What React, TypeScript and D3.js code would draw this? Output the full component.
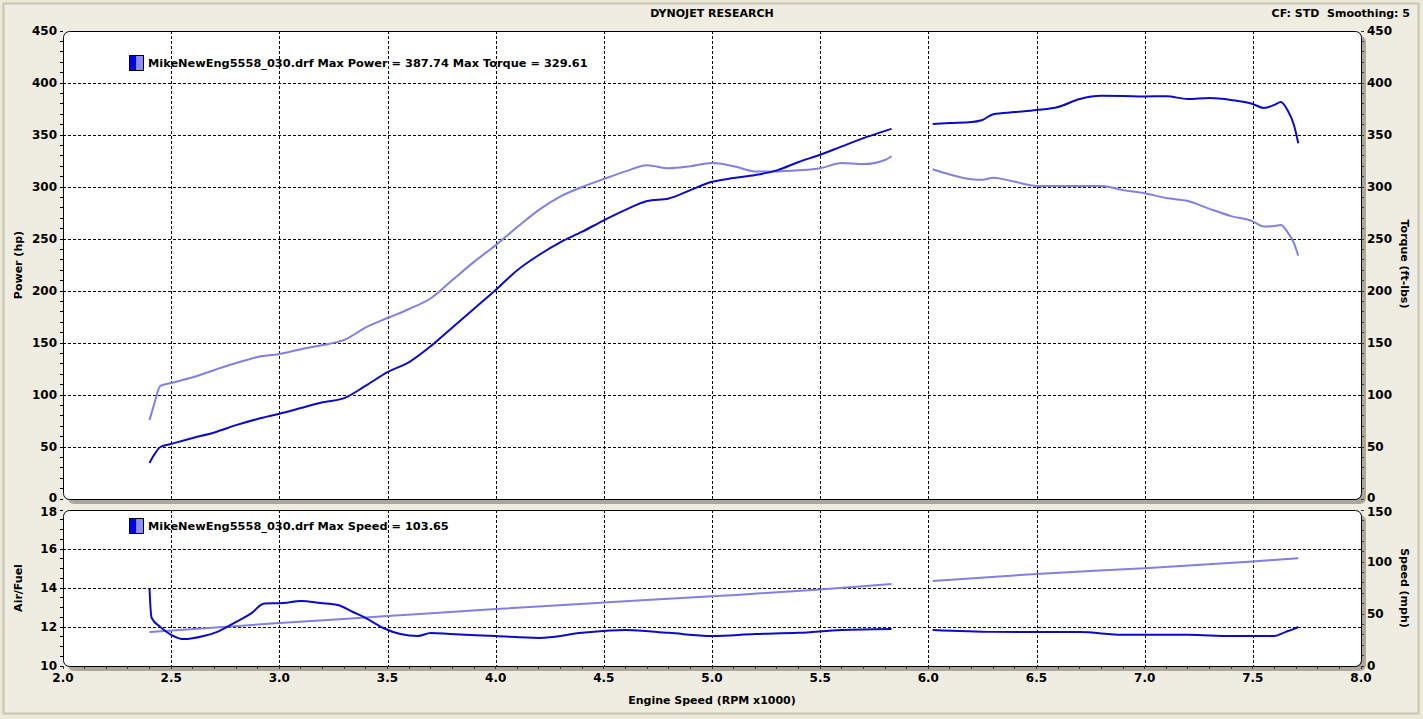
import * as d3 from "d3";

// engine speed x1000 for each recorded run segment (the dyno log has a gap 5.83 -> 6.02)
const RPM_LOW = [2.4, 2.42, 2.45, 2.5, 2.6, 2.7, 2.8, 2.9, 3.0, 3.1, 3.2, 3.3, 3.4, 3.5, 3.6, 3.7, 3.8, 3.9, 4.0, 4.1, 4.2, 4.3, 4.4, 4.5, 4.6, 4.7, 4.8, 4.9, 5.0, 5.1, 5.2, 5.3, 5.4, 5.5, 5.6, 5.7, 5.8, 5.83];
const POWER_LOW = [34.6, 42, 50, 53, 58.7, 64, 71, 77, 82, 87.5, 93, 97, 109, 122, 131.7, 147, 165, 183, 201, 220, 234.6, 247, 257, 268, 278, 286.5, 289, 297, 305, 308.6, 311.5, 316, 324, 331, 339, 347, 354, 356];
const TORQUE_LOW = [76, 90, 108.7, 111.5, 117, 124, 130.8, 136.5, 139.4, 144, 148, 153, 165, 174, 182.7, 193, 210.6, 228, 244, 261.5, 278, 291, 300, 307.7, 315, 321, 318, 320, 323, 320, 315, 315, 316, 318, 323, 322, 326, 329.6];

const RPM_HIGH = [6.02, 6.1, 6.2, 6.25, 6.3, 6.4, 6.5, 6.6, 6.7, 6.8, 6.9, 7.0, 7.1, 7.2, 7.3, 7.4, 7.5, 7.55, 7.6, 7.63, 7.66, 7.69, 7.71];
const POWER_HIGH = [360.6, 361.5, 362.5, 364.4, 370, 372, 374, 377, 384.6, 387.7, 387.5, 387, 387.3, 384.6, 385.6, 383.7, 379.8, 376, 379, 381.7, 374, 359.6, 342];
const TORQUE_HIGH = [317, 312, 307.5, 307, 309, 305, 301, 301, 301, 301, 297, 294, 289.4, 286.5, 279, 272, 267, 262, 262.5, 263.5, 256.7, 246, 234];

const AF_RPM_LOW = [2.4, 2.405, 2.41, 2.45, 2.5, 2.56, 2.65, 2.71, 2.79, 2.87, 2.93, 3.02, 3.1, 3.19, 3.27, 3.34, 3.4, 3.48, 3.56, 3.64, 3.7, 3.79, 4.0, 4.2, 4.4, 4.6, 4.8, 5.0, 5.2, 5.4, 5.6, 5.83];
const AF_LOW = [13.95, 12.9, 12.46, 12.0, 11.6, 11.38, 11.54, 11.74, 12.2, 12.7, 13.2, 13.23, 13.33, 13.23, 13.13, 12.77, 12.46, 11.95, 11.64, 11.54, 11.69, 11.64, 11.54, 11.44, 11.7, 11.85, 11.7, 11.54, 11.64, 11.7, 11.85, 11.9];
const AF_RPM_HIGH = [6.02, 6.3, 6.5, 6.7, 6.9, 7.2, 7.4, 7.6, 7.65, 7.69, 7.71];
const AF_HIGH = [11.85, 11.75, 11.74, 11.74, 11.6, 11.6, 11.54, 11.54, 11.74, 11.9, 12.0];

const SPD_RPM_LOW = [2.4, 3.0, 3.5, 4.0, 4.5, 5.0, 5.5, 5.83];
const SPEED_LOW = [32.7, 41.3, 48, 54.8, 61, 67, 73.5, 78.8];
const SPD_RPM_HIGH = [6.02, 6.5, 7.0, 7.5, 7.71];
const SPEED_HIGH = [81.7, 88.5, 94, 100.5, 103.65];

const X_TICKS = [2.0, 2.5, 3.0, 3.5, 4.0, 4.5, 5.0, 5.5, 6.0, 6.5, 7.0, 7.5, 8.0];
const POWER_TICKS = [0, 50, 100, 150, 200, 250, 300, 350, 400, 450];
const AF_TICKS = [10, 12, 14, 16, 18];
const SPEED_TICKS = [0, 50, 100, 150];

const TITLE = "DYNOJET RESEARCH";
const INFO = "CF: STD  Smoothing: 5";
const LEGEND_TOP = "MikeNewEng5558_030.drf Max Power = 387.74 Max Torque = 329.61";
const LEGEND_BOTTOM = "MikeNewEng5558_030.drf Max Speed = 103.65";

const DARK = "#0a0ac8";
const LIGHT = "#8080e6";
const BG = "#ece9d8";
const SHADOW = "#aca899";
const FONT = "'DejaVu Sans', Verdana, sans-serif";

const W = 1423;
const H = 719;
const LEFT = 63;
const RIGHT = 1361;
const TOP1 = 31;
const BOT1 = 499;
const TOP2 = 510;
const BOT2 = 666;

type Pt = [number, number];
const zip = (xs: number[], ys: number[]): Pt[] => xs.map((x, i) => [x, ys[i]]);

function Panel({ top, bottom, clipId }: { top: number; bottom: number; clipId: string }) {
  return (
    <g>
      <rect x={LEFT + 5} y={top + 5} width={RIGHT - LEFT} height={bottom - top} rx={6} fill={SHADOW} />
      <rect x={LEFT} y={top} width={RIGHT - LEFT} height={bottom - top} rx={6} fill="white" />
      <clipPath id={clipId}>
        <rect x={LEFT} y={top} width={RIGHT - LEFT} height={bottom - top} rx={6} />
      </clipPath>
    </g>
  );
}

export default function App() {
  const x = d3.scaleLinear().domain([2, 8]).range([LEFT, RIGHT]);
  const yPow = d3.scaleLinear().domain([0, 450]).range([BOT1, TOP1]);
  const yTq = d3.scaleLinear().domain([0, 450]).range([BOT1, TOP1]);
  const yAf = d3.scaleLinear().domain([10, 18]).range([BOT2, TOP2]);
  const ySpd = d3.scaleLinear().domain([0, 150]).range([BOT2, TOP2]);

  const mkLine = (ys: d3.ScaleLinear<number, number>) =>
    d3
      .line<Pt>()
      .x((d) => x(d[0]))
      .y((d) => ys(d[1]))
      .curve(d3.curveMonotoneX);

  const powLine = mkLine(yPow);
  const tqLine = mkLine(yTq);
  const afLine = mkLine(yAf);
  const spdLine = mkLine(ySpd);

  const gridX = X_TICKS.filter((t) => t > 2 && t < 8);
  const minorX = d3.range(20, 81).map((v) => v / 10);
  const minorPow = d3.range(0, 451, 10);
  const minorAf = d3.range(20, 37).map((v) => v / 2);
  const minorSpd = d3.range(0, 151, 10);

  const txt = { fontFamily: FONT, fontWeight: 700 as const, fill: "#000" };
  // the "0" of the top panel and the top label of the lower panel sit almost on each other
  const nudgeTop = (t: number) => (t === 0 ? -1.5 : 0);
  const nudgeBot = (top: boolean) => (top ? 1.5 : 0);

  return (
    <svg
      width={W}
      height={H}
      style={{ position: "absolute", left: 0, top: 0, background: BG }}
    >
      <rect x={0} y={0} width={W} height={H} fill={BG} />
      <rect x={3.5} y={3.5} width={1415} height={710} fill="#efede2" stroke="#c9c5b5" strokeWidth={2} />

      <text x={712} y={17} textAnchor="middle" style={{ ...txt, fontSize: 11 }}>
        {TITLE}
      </text>
      <text x={1410} y={17} textAnchor="end" style={{ ...txt, fontSize: 11, whiteSpace: "pre" }}>
        {INFO}
      </text>

      <Panel top={TOP1} bottom={BOT1} clipId="clip-top" />
      <Panel top={TOP2} bottom={BOT2} clipId="clip-bot" />

      {/* grid */}
      <g stroke="#000" strokeWidth={1} strokeDasharray="3,2" shapeRendering="crispEdges">
        {gridX.map((t) => (
          <line key={"gx1" + t} x1={Math.round(x(t)) + 0.5} x2={Math.round(x(t)) + 0.5} y1={TOP1} y2={BOT1} />
        ))}
        {POWER_TICKS.filter((t) => t > 0 && t < 450).map((t) => (
          <line key={"gy1" + t} x1={LEFT} x2={RIGHT} y1={Math.round(yPow(t)) + 0.5} y2={Math.round(yPow(t)) + 0.5} />
        ))}
        {gridX.map((t) => (
          <line key={"gx2" + t} x1={Math.round(x(t)) + 0.5} x2={Math.round(x(t)) + 0.5} y1={TOP2} y2={BOT2} />
        ))}
        {AF_TICKS.filter((t) => t > 10 && t < 18).map((t) => (
          <line key={"gy2" + t} x1={LEFT} x2={RIGHT} y1={Math.round(yAf(t)) + 0.5} y2={Math.round(yAf(t)) + 0.5} />
        ))}
      </g>

      {/* series */}
      <g clipPath="url(#clip-top)" fill="none" strokeWidth={2} strokeLinejoin="round">
        <path d={tqLine(zip(RPM_LOW, TORQUE_LOW)) ?? ""} stroke={LIGHT} />
        <path d={tqLine(zip(RPM_HIGH, TORQUE_HIGH)) ?? ""} stroke={LIGHT} />
        <path d={powLine(zip(RPM_LOW, POWER_LOW)) ?? ""} stroke={DARK} />
        <path d={powLine(zip(RPM_HIGH, POWER_HIGH)) ?? ""} stroke={DARK} />
      </g>
      <g clipPath="url(#clip-bot)" fill="none" strokeWidth={2} strokeLinejoin="round">
        <path d={spdLine(zip(SPD_RPM_LOW, SPEED_LOW)) ?? ""} stroke={LIGHT} />
        <path d={spdLine(zip(SPD_RPM_HIGH, SPEED_HIGH)) ?? ""} stroke={LIGHT} />
        <path d={afLine(zip(AF_RPM_LOW, AF_LOW)) ?? ""} stroke={DARK} />
        <path d={afLine(zip(AF_RPM_HIGH, AF_HIGH)) ?? ""} stroke={DARK} />
      </g>

      {/* panel borders */}
      <rect x={LEFT + 0.5} y={TOP1 + 0.5} width={RIGHT - LEFT} height={BOT1 - TOP1} rx={6} fill="none" stroke="#000" />
      <rect x={LEFT + 0.5} y={TOP2 + 0.5} width={RIGHT - LEFT} height={BOT2 - TOP2} rx={6} fill="none" stroke="#000" />

      {/* ticks */}
      <g stroke="#000" strokeWidth={1} shapeRendering="crispEdges">
        {minorPow.map((t) => (
          <line key={"lt1" + t} x1={LEFT - 3} x2={LEFT} y1={yPow(t)} y2={yPow(t)} />
        ))}
        {minorPow.map((t) => (
          <line key={"rt1" + t} x1={RIGHT} x2={RIGHT + 3} y1={yTq(t)} y2={yTq(t)} stroke="#333" />
        ))}
        {minorAf.map((t) => (
          <line key={"lt2" + t} x1={LEFT - 3} x2={LEFT} y1={yAf(t)} y2={yAf(t)} />
        ))}
        {minorSpd.map((t) => (
          <line key={"rt2" + t} x1={RIGHT} x2={RIGHT + 3} y1={ySpd(t)} y2={ySpd(t)} stroke="#333" />
        ))}
        {minorX.map((t) => (
          <line key={"bt" + t} x1={x(t)} x2={x(t)} y1={BOT2} y2={BOT2 + 3} stroke="#333" />
        ))}
      </g>

      {/* tick labels */}
      <g style={{ ...txt, fontSize: 12 }}>
        {POWER_TICKS.map((t) => (
          <text key={"lp" + t} x={57} y={yPow(t) + nudgeTop(t)} dy="0.36em" textAnchor="end">
            {t}
          </text>
        ))}
        {POWER_TICKS.map((t) => (
          <text key={"rp" + t} x={1367} y={yTq(t) + nudgeTop(t)} dy="0.36em" textAnchor="start">
            {t}
          </text>
        ))}
        {AF_TICKS.map((t) => (
          <text key={"la" + t} x={57} y={yAf(t) + nudgeBot(t === 18)} dy="0.36em" textAnchor="end">
            {t}
          </text>
        ))}
        {SPEED_TICKS.map((t) => (
          <text key={"rs" + t} x={1367} y={ySpd(t) + nudgeBot(t === 150)} dy="0.36em" textAnchor="start">
            {t}
          </text>
        ))}
        {X_TICKS.map((t) => (
          <text key={"bx" + t} x={x(t)} y={682} textAnchor="middle">
            {t.toFixed(1)}
          </text>
        ))}
      </g>

      {/* axis titles */}
      <g style={{ ...txt, fontSize: 11 }}>
        <text transform="translate(22,265) rotate(-90)" textAnchor="middle">Power (hp)</text>
        <text transform="translate(22,588) rotate(-90)" textAnchor="middle">Air/Fuel</text>
        <text transform="translate(1401,264) rotate(90)" textAnchor="middle">Torque (ft-lbs)</text>
        <text transform="translate(1401,588) rotate(90)" textAnchor="middle">Speed (mph)</text>
        <text x={712} y={704} textAnchor="middle">Engine Speed (RPM x1000)</text>
      </g>

      {/* legends */}
      {[
        { y: 55, label: LEGEND_TOP },
        { y: 518, label: LEGEND_BOTTOM },
      ].map((l) => (
        <g key={l.y}>
          <rect x={129.5} y={l.y + 0.5} width={7} height={15} fill="#0000f0" />
          <rect x={136.5} y={l.y + 0.5} width={7} height={15} fill="#8c8cff" />
          <rect x={129.5} y={l.y + 0.5} width={14} height={15} fill="none" stroke="#000" />
          <text x={148} y={l.y + 11.5} style={{ ...txt, fontSize: 11.35 }}>
            {l.label}
          </text>
        </g>
      ))}
    </svg>
  );
}
